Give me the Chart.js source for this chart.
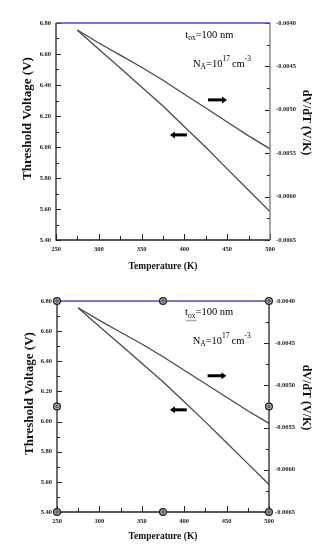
<!DOCTYPE html>
<html>
<head>
<meta charset="utf-8">
<script src="https://cdn.jsdelivr.net/npm/chart.js@4/dist/chart.umd.min.js"></script>
<style>
  html, body { margin: 0; padding: 0; background: #fff; }
  .box { position: absolute; left: 0; width: 326px; height: 274px; }
</style>
</head>
<body>
<div class="box" style="top:0"><canvas id="topChart"></canvas></div>
<div class="box" style="top:274px"><canvas id="bottomChart"></canvas></div>
<script>
// values (same curves in both panels)
const temperatures = [275, 300, 325, 350, 375, 400, 425, 450, 475, 500];
const thresholdVoltage = [6.753, 6.631, 6.509, 6.387, 6.264, 6.131, 5.998, 5.859, 5.721, 5.583];
const slopeDvdt = [-0.00408, -0.00423, -0.00437, -0.00451, -0.00466, -0.00482, -0.00498, -0.00514, -0.00530, -0.00545];

const xTicks = [250, 300, 350, 400, 450, 500];
const xMinorTicks = [275, 325, 375, 425, 475];
const leftTicks = [5.4, 5.6, 5.8, 6.0, 6.2, 6.4, 6.6, 6.8];
const leftMinorTicks = [5.5, 5.7, 5.9, 6.1, 6.3, 6.5, 6.7];
const rightTicks = [-0.0065, -0.006, -0.0055, -0.005, -0.0045, -0.004];
const rightMinorTicks = [-0.00625, -0.00575, -0.00525, -0.00475, -0.00425];

const serif = "'Liberation Serif', 'DejaVu Serif', serif";
const tickFont = { family: serif, size: 6.5, weight: 'bold' };

function setTicks(values) {
    return (scale) => { scale.ticks = values.map(v => ({ value: v })); };
}

function drawArrow(ctx, x1, x2, yy) {
    // x1 = tail, x2 = tip
    const dir = x2 > x1 ? 1 : -1;
    ctx.strokeStyle = '#000';
    ctx.fillStyle = '#000';
    ctx.lineWidth = 3;
    ctx.beginPath();
    ctx.moveTo(x1, yy);
    ctx.lineTo(x2 - dir * 4, yy);
    ctx.stroke();
    ctx.beginPath();
    ctx.moveTo(x2, yy);
    ctx.lineTo(x2 - dir * 5, yy - 3.5);
    ctx.lineTo(x2 - dir * 5, yy + 3.5);
    ctx.closePath();
    ctx.fill();
}

function drawNotes(ctx, x, y, squiggle) {
    ctx.fillStyle = '#000';
    ctx.textAlign = 'left';
    ctx.textBaseline = 'alphabetic';
    const big = `10.5px ${serif}`, small = `7.5px ${serif}`;

    let px = x.getPixelForValue(401), py = y.getPixelForValue(6.705);
    ctx.font = big; ctx.fillText('t', px, py); px += ctx.measureText('t').width;
    const subStart = px;
    ctx.font = small; ctx.fillText('ox', px, py + 2.5); px += ctx.measureText('ox').width;
    const subEnd = px;
    ctx.font = big; ctx.fillText('=100 nm', px, py);
    if (squiggle) {
        ctx.strokeStyle = '#3a9a3a';
        ctx.lineWidth = 0.9;
        ctx.beginPath();
        for (let sx = subStart - 2, k = 0; sx <= subEnd + 1; sx += 1.5, k++) {
            const sy = py + 5 + (k % 2 ? 1 : -0.5);
            if (k === 0) ctx.moveTo(sx, sy); else ctx.lineTo(sx, sy);
        }
        ctx.stroke();
    }

    px = x.getPixelForValue(410); py = y.getPixelForValue(6.518);
    ctx.font = big; ctx.fillText('N', px, py); px += ctx.measureText('N').width;
    ctx.font = small; ctx.fillText('A', px, py + 2.5); px += ctx.measureText('A').width;
    ctx.font = big; ctx.fillText('=10', px, py); px += ctx.measureText('=10').width;
    ctx.font = small; ctx.fillText('17', px, py - 5.5); px += ctx.measureText('17').width + 2;
    ctx.font = big; ctx.fillText('cm', px, py); px += ctx.measureText('cm').width;
    ctx.font = small; ctx.fillText('-3', px, py - 5.5);
}

const framePlugin = {
    id: 'frame',
    afterDatasetsDraw(chart, args, opts) {
        const { ctx, chartArea: a, scales: { x, y, y2 } } = chart;
        ctx.save();
        ctx.lineCap = 'butt';

        // ticks, all pointing into the plot
        ctx.strokeStyle = '#222';
        ctx.lineWidth = 1;
        const tick = (scale, values, len, side) => {
            values.forEach(v => {
                const p = Math.round(scale.getPixelForValue(v)) + 0.5;
                ctx.beginPath();
                if (side === 'bottom') { ctx.moveTo(p, a.bottom); ctx.lineTo(p, a.bottom - len); }
                if (side === 'left') { ctx.moveTo(a.left, p); ctx.lineTo(a.left + len, p); }
                if (side === 'right') { ctx.moveTo(a.right, p); ctx.lineTo(a.right - len, p); }
                ctx.stroke();
            });
        };
        tick(x, xTicks, 6, 'bottom');
        tick(x, xMinorTicks, 4, 'bottom');
        tick(y, leftTicks, 5, 'left');
        tick(y, leftMinorTicks, 3, 'left');
        tick(y2, rightTicks, 5, 'right');
        tick(y2, rightMinorTicks, 3, 'right');

        // axis lines
        ctx.lineWidth = 1.3;
        ctx.strokeStyle = '#222';
        ctx.beginPath();
        ctx.moveTo(a.left, a.top); ctx.lineTo(a.left, a.bottom); ctx.lineTo(a.right, a.bottom);
        ctx.stroke();
        ctx.strokeStyle = opts.rightColor;
        ctx.beginPath();
        ctx.moveTo(a.right, a.bottom); ctx.lineTo(a.right, a.top);
        ctx.stroke();
        ctx.strokeStyle = '#4848c8';
        ctx.lineWidth = 1.5;
        ctx.beginPath();
        ctx.moveTo(a.left, a.top); ctx.lineTo(a.right, a.top);
        ctx.stroke();

        drawNotes(ctx, x, y, opts.squiggle);
        drawArrow(ctx, x.getPixelForValue(427.6), x.getPixelForValue(449.8), y.getPixelForValue(6.304));
        drawArrow(ctx, x.getPixelForValue(403), x.getPixelForValue(383.2), y.getPixelForValue(6.078));

        if (opts.handles) {
            const cx = (a.left + a.right) / 2, cy = (a.top + a.bottom) / 2;
            const spots = [[a.left, a.top], [cx, a.top], [a.right, a.top], [a.left, cy], [a.right, cy],
                           [a.left, a.bottom], [cx, a.bottom], [a.right, a.bottom]];
            spots.forEach(([hx, hy]) => {
                ctx.beginPath();
                ctx.arc(hx, hy, 3.4, 0, Math.PI * 2);
                ctx.fillStyle = '#b8b8b8';
                ctx.fill();
                ctx.lineWidth = 1.3;
                ctx.strokeStyle = '#222';
                ctx.stroke();
                ctx.beginPath();
                ctx.arc(hx, hy, 1.3, 0, Math.PI * 2);
                ctx.lineWidth = 0.8;
                ctx.stroke();
            });
        }
        ctx.restore();
    }
};

function buildChart(id, cfg) {
    return new Chart(document.getElementById(id), {
        type: 'line',
        data: {
            datasets: [{
                label: 'Threshold Voltage',
                data: temperatures.map((t, i) => ({ x: t, y: thresholdVoltage[i] })),
                yAxisID: 'y',
                borderColor: '#4a4a4a',
                borderWidth: 1.3,
                pointRadius: 0,
                tension: 0
            }, {
                label: 'dV/dT',
                data: temperatures.map((t, i) => ({ x: t, y: slopeDvdt[i] })),
                yAxisID: 'y2',
                borderColor: '#4a4a4a',
                borderWidth: 1.3,
                pointRadius: 0,
                tension: 0
            }]
        },
        options: {
            responsive: true,
            maintainAspectRatio: false,
            animation: false,
            layout: { padding: { top: cfg.top, left: 0, right: 0, bottom: 0 } },
            plugins: {
                legend: { display: false },
                tooltip: { enabled: false },
                frame: { handles: cfg.handles, squiggle: cfg.handles, rightColor: cfg.rightColor }
            },
            scales: {
                x: {
                    type: 'linear', position: 'bottom', min: 250, max: 500,
                    afterBuildTicks: setTicks(xTicks),
                    afterFit: s => { s.height = cfg.xHeight; },
                    grid: { display: false, drawTicks: false },
                    border: { display: false },
                    ticks: { padding: 5, font: tickFont, color: '#222', maxRotation: 0, autoSkip: false },
                    title: {
                        display: true, text: 'Temperature (K)', color: '#111',
                        font: { family: serif, size: 9.5, weight: 'bold' },
                        padding: { top: 0, bottom: cfg.xTitlePad }
                    }
                },
                y: {
                    type: 'linear', position: 'left', min: 5.4, max: 6.8,
                    afterBuildTicks: setTicks(leftTicks),
                    afterFit: s => { s.width = cfg.side; },
                    grid: { display: false, drawTicks: false },
                    border: { display: false },
                    ticks: { padding: 5, font: tickFont, color: '#222', callback: v => v.toFixed(2) },
                    title: {
                        display: true, text: '        Threshold Voltage (V)', color: '#111',
                        font: { family: serif, size: 13, weight: 'bold' },
                        padding: { top: cfg.leftTitlePad, bottom: 0 }
                    }
                },
                y2: {
                    type: 'linear', position: 'right', min: -0.0065, max: -0.004,
                    afterBuildTicks: setTicks(rightTicks),
                    afterFit: s => { s.width = cfg.side; },
                    grid: { display: false, drawTicks: false },
                    border: { display: false },
                    ticks: { padding: 6, font: tickFont, color: '#222', callback: v => v.toFixed(4) },
                    title: {
                        display: true, text: 'dV/dT (V/K)      ', color: '#111',
                        font: { family: serif, size: 12, weight: 'bold' },
                        padding: { top: 13, bottom: 0 }
                    }
                }
            }
        },
        plugins: [framePlugin]
    });
}

const topChart = buildChart('topChart', {
    top: 23, xHeight: 34, side: 56, xTitlePad: 2, leftTitlePad: 20, handles: false, rightColor: '#777'
});
const bottomChart = buildChart('bottomChart', {
    top: 27, xHeight: 36, side: 57, xTitlePad: 6, leftTitlePad: 22, handles: true, rightColor: '#222'
});
</script>
</body>
</html>
